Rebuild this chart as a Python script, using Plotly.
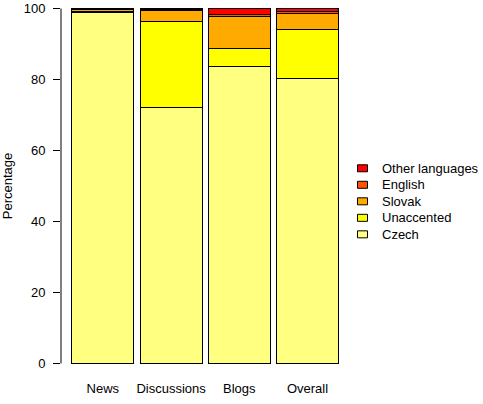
import plotly.graph_objects as go

categories = ["News", "Discussions", "Blogs", "Overall"]
series_names = ["Czech", "Unaccented", "Slovak", "English", "Other languages"]
czech = [98.9, 72.1, 83.7, 80.2]
unaccented = [0.3, 24.2, 5.0, 13.8]
slovak = [0.5, 3.1, 9.0, 4.7]
english = [0.2, 0.3, 0.5, 0.6]
other = [0.1, 0.3, 1.8, 0.7]
series_values = [czech, unaccented, slovak, english, other]
colors = ["#FFFF80", "#FFFF00", "#FFAA00", "#FF5500", "#FF0000"]
y_ticks = [0, 20, 40, 60, 80, 100]

W, H = 483, 404
L, R = 61, 350          # plot area in pixels (x)
T, B = 5.15, 366.85     # plot area in pixels (y)
FONT = "Liberation Sans, Arial, Helvetica, sans-serif"

def px(x):
    return (x - L) / (R - L)

def py(y):
    return (B - y) / (B - T)

fig = go.Figure()
for name, vals, col in zip(series_names, series_values, colors):
    fig.add_trace(go.Bar(
        x=list(range(len(categories))), y=vals, name=name,
        marker=dict(color=col, line=dict(color="black", width=1)),
        width=0.91, showlegend=False,
    ))

# y axis line spanning only 0..100 like base R
fig.add_shape(type="line", xref="paper", yref="y", x0=0, x1=0, y0=0, y1=100,
              line=dict(color="black", width=1))

# legend (R style), top item = last series
legend_top = 168.3
legend_step = 16.5
for i, (name, col) in enumerate(reversed(list(zip(series_names, colors)))):
    cy = legend_top + i * legend_step
    fig.add_shape(type="rect", xref="paper", yref="paper",
                  x0=px(357.5), x1=px(367.5), y0=py(cy - 3.5), y1=py(cy + 3.5),
                  fillcolor=col, line=dict(color="black", width=1))
    fig.add_annotation(xref="paper", yref="paper", x=px(380), y=py(cy),
                       xanchor="left", yanchor="middle", text=name, showarrow=False,
                       font=dict(family=FONT, size=13, color="black"))

fig.update_layout(
    width=W, height=H,
    barmode="stack",
    plot_bgcolor="white", paper_bgcolor="white",
    font=dict(family=FONT, size=13, color="black"),
    margin=dict(l=L, r=W - R, t=T, b=H - B, autoexpand=False),
    xaxis=dict(range=[-0.613, 3.623], tickvals=list(range(len(categories))),
               ticktext=categories, showline=False, showgrid=False, zeroline=False,
               ticks="", ticklabelstandoff=12),
    yaxis=dict(range=[-1, 101], tickvals=y_ticks, showline=False, showgrid=False,
               zeroline=False, ticks="outside", ticklen=7, tickcolor="black",
               ticklabelstandoff=5,
               title=dict(text="Percentage", standoff=10,
                          font=dict(family=FONT, size=13, color="black"))),
    showlegend=False,
)

fig.write_html("out.html")
